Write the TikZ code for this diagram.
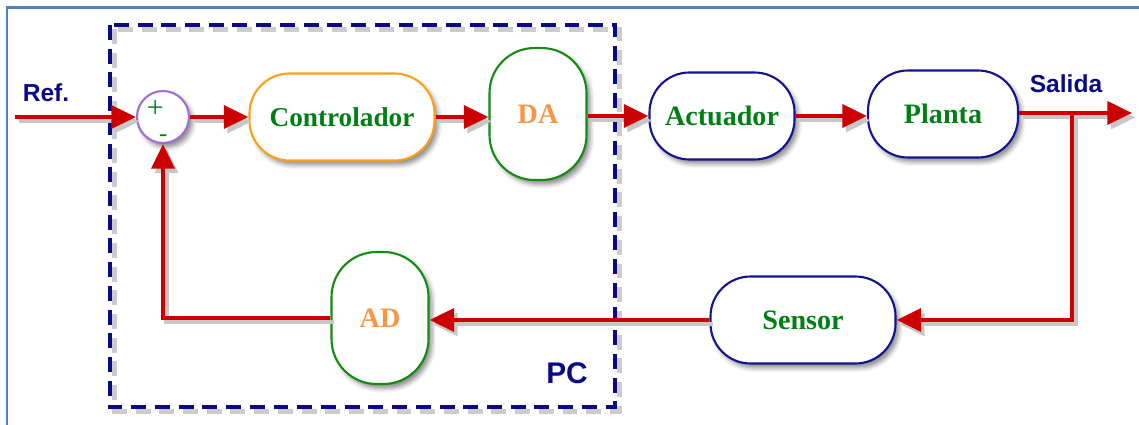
\documentclass[tikz,border=0pt]{standalone}
\usepackage{fontspec}
\setmainfont{Liberation Serif}
\newfontfamily\labelsans{Liberation Sans}
\usetikzlibrary{arrows.meta,shadows.blur}

\definecolor{flowred}{RGB}{204,0,0}
\definecolor{pcnavy}{RGB}{10,10,135}
\definecolor{boxnavy}{RGB}{20,20,145}
\definecolor{txtgreen}{RGB}{0,128,20}
\definecolor{txtorange}{RGB}{247,150,70}
\definecolor{lineorange}{RGB}{255,160,20}
\definecolor{linegreen}{RGB}{20,140,20}
\definecolor{sumpurple}{RGB}{160,110,210}
\definecolor{frameblue}{RGB}{79,129,189}

\tikzset{
  block/.style={draw, fill=white, line width=1.2pt, rectangle,
    font=\bfseries\fontsize{16}{18}\selectfont, text=txtgreen,
    blur shadow={shadow xshift=2pt, shadow yshift=-2.5pt,
      shadow blur radius=2.5pt, shadow opacity=45}},
  wide/.style={block, minimum width=#1*0.02cm, minimum height=1.74cm,
    rounded corners=0.8cm},
  tall/.style={block, minimum width=1.94cm, minimum height=2.64cm,
    rounded corners=0.9cm, draw=linegreen, text=txtorange},
  flow/.style={draw=flowred, line width=2.3pt,
    -{Triangle[length=14pt,width=13pt]},
    preaction={draw=black!22, line width=2.3pt,
      transform canvas={shift={(2pt,-2.5pt)}}}},
  sideLabel/.style={font=\labelsans\bfseries\fontsize{14}{16}\selectfont,
    text=pcnavy},
}

\begin{document}
\begin{tikzpicture}[x=0.02cm, y=-0.02cm]
\useasboundingbox (0,0) rectangle (1139,425);

% frame lines along the top and left edges
\draw[frameblue, line width=1.2pt] (7,425) -- (7,7.5) -- (1139,7.5);

% computer boundary (dashed) with its soft shadow
\draw[black!20, line width=2.6pt, dash pattern=on 8.5pt off 5pt,
  transform canvas={shift={(2.5pt,-2.5pt)}}]
  (110,25) rectangle (615,407);
\draw[pcnavy, line width=2.6pt, dash pattern=on 8.5pt off 5pt]
  (110,25) rectangle (615,407);
\node[sideLabel, font=\labelsans\bfseries\fontsize{17}{19}\selectfont]
  (pc) at (567,373) {PC};

% summing junction with its signs stacked inside
\node[circle, draw=sumpurple, fill=white, line width=1.2pt,
  minimum size=1.04cm, inner sep=0pt,
  blur shadow={shadow xshift=2pt, shadow yshift=-2.5pt,
    shadow blur radius=2.5pt, shadow opacity=45}] (sum) at (163,117) {};
\node[text=txtgreen, font=\fontsize{17}{13.3}\selectfont, inner sep=0pt,
  align=left, anchor=west] (signs) at (146.5,121)
  {+\\\hspace*{7pt}{\fontsize{14}{13.3}\selectfont -}};

% blocks
\node[wide=185, draw=lineorange,
  font=\bfseries\fontsize{15.5}{18}\selectfont] (ctrl) at (342,117) {Controlador};
\node[tall] (da) at (538,114) {DA};
\node[wide=145, draw=boxnavy] (act) at (722,116) {Actuador};
\node[wide=150, draw=boxnavy] (plant) at (943,114) {Planta};
\node[wide=185, draw=boxnavy] (sensor) at (803,320) {Sensor};
\node[tall] (ad) at (380,318) {AD};

% signal labels
\node[sideLabel] (ref) at (46,93) {Ref.};
\node[sideLabel] (out) at (1066,84) {Salida};

% free ends and corners of the connectors
\coordinate (in) at (15,117);
\coordinate (yout) at (1132,113);
\coordinate (br) at (1072,113);
\coordinate (fb) at (sum.south |- ad.west);

% forward path
\draw[flow] (in) -- (sum.west);
\draw[flow] (sum.east) -- (ctrl.west);
\draw[flow] (ctrl.east) -- (ctrl.east -| da.west);
\draw[flow] (da.east |- act.west) -- (act.west);
\draw[flow] (act.east) -- (act.east -| plant.west);
\draw[flow] (plant.east |- yout) -- (yout);

% feedback path
\draw[flow] (br) -- (br |- sensor.east) -- (sensor.east);
\draw[flow] (sensor.west) -- (sensor.west -| ad.east);
\draw[flow] (ad.west |- fb) -- (fb) -- (sum.south);
\end{tikzpicture}
\end{document}
